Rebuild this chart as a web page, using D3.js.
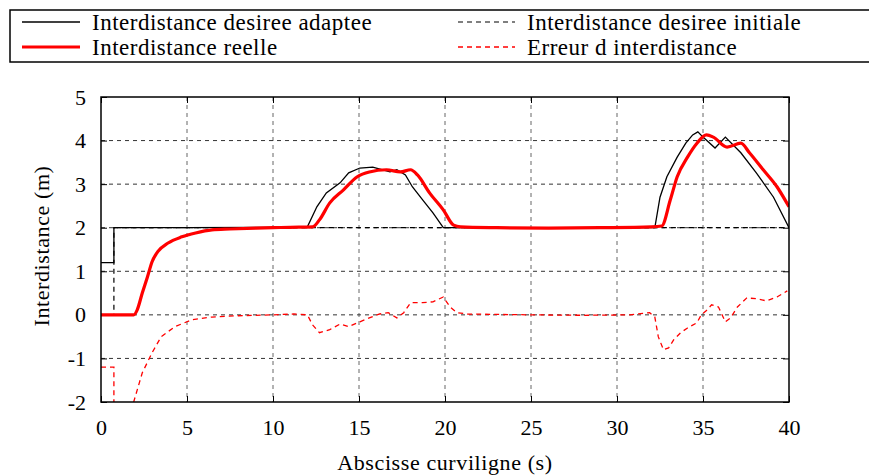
<!DOCTYPE html>
<html>
<head>
<meta charset="utf-8">
<script src="https://d3js.org/d3.v7.min.js"></script>
<style>
  body { margin: 0; background: #fff; }
</style>
</head>
<body>
<div id="chart"></div>
<script>
// values
const adapteeX = [0, 0.75, 0.75, 5, 10, 12.0, 12.55, 13.1, 13.9, 14.4, 15.05, 15.8, 16.8, 17.2, 17.7, 18.1, 18.7, 19.3, 19.9, 25, 32.2, 32.5, 32.9, 33.5, 34.0, 34.4, 34.7, 35.0, 35.7, 36.3, 37.2, 38.1, 39.1, 40];
const adapteeY = [1.2, 1.2, 2.0, 2.0, 2.01, 2.02, 2.48, 2.8, 3.03, 3.26, 3.37, 3.39, 3.28, 3.33, 3.21, 2.94, 2.64, 2.34, 2.0, 2.0, 2.0, 2.7, 3.17, 3.62, 3.94, 4.13, 4.2, 4.08, 3.83, 4.08, 3.72, 3.26, 2.7, 2.0];

const initialeX = [0, 0.75, 0.75, 40];
const initialeY = [0, 0, 2, 2];

const reelleX = [0, 1.9, 2.1, 2.4, 2.7, 2.97, 3.3, 3.9, 4.7, 5.5, 6.45, 7.5, 9, 10, 11, 12.3, 12.7, 13.3, 14.1, 14.9, 15.6, 16.6, 17.4, 18.0, 18.4, 19.1, 19.9, 20.5, 20.9, 23, 26, 29, 32.0, 32.6, 33.1, 33.5, 34.1, 34.65, 35.2, 35.6, 36.4, 37.2, 37.7, 38.5, 39.3, 40];
const reelleY = [0, 0, 0.11, 0.5, 0.87, 1.22, 1.45, 1.65, 1.79, 1.88, 1.95, 1.97, 1.99, 2.0, 2.01, 2.02, 2.18, 2.57, 2.87, 3.17, 3.28, 3.33, 3.28, 3.33, 3.21, 2.8, 2.41, 2.06, 2.02, 2.0, 1.99, 2.0, 2.02, 2.04, 2.64, 3.17, 3.62, 3.94, 4.13, 4.08, 3.85, 3.94, 3.72, 3.33, 2.94, 2.48];

const erreurX = [0, 0.75, 0.75, 1.9, 2.4, 2.97, 3.5, 4.3, 5.3, 6.45, 8, 10, 11.2, 12.0, 12.3, 12.7, 13.3, 13.9, 14.4, 15.05, 15.6, 16.2, 16.7, 17.2, 17.6, 18.0, 18.7, 19.3, 19.9, 20.3, 20.7, 21.3, 25, 28, 30.75, 31.9, 32.2, 32.4, 32.7, 33.0, 33.3, 33.7, 34.1, 34.65, 34.9, 35.2, 35.5, 35.9, 36.3, 36.6, 37.0, 37.55, 38.1, 38.7, 39.3, 39.9];
const erreurY = [-1.2, -1.2, -2.1, -2.0, -1.33, -0.87, -0.5, -0.27, -0.11, -0.05, -0.02, 0, 0.02, 0, -0.23, -0.41, -0.34, -0.21, -0.27, -0.16, -0.07, 0.02, 0.05, -0.07, 0.05, 0.28, 0.28, 0.3, 0.41, 0.18, 0.05, 0.02, 0, -0.01, 0, 0.05, -0.05, -0.5, -0.8, -0.76, -0.57, -0.41, -0.3, -0.18, 0, 0.1, 0.23, 0.18, -0.16, -0.07, 0.18, 0.39, 0.37, 0.32, 0.41, 0.55];

const xTicks = [0, 5, 10, 15, 20, 25, 30, 35, 40];
const yTicks = [-2, -1, 0, 1, 2, 3, 4, 5];

const legendLabels = ["Interdistance desiree adaptee", "Interdistance desiree initiale", "Interdistance reelle", "Erreur d interdistance"];

const FONT = "Liberation Serif";
const width = 869, height = 475;
const margin = { top: 97, right: 80, bottom: 73, left: 101 };

const svg = d3.select("#chart").append("svg")
    .attr("width", width)
    .attr("height", height)
    .attr("font-family", FONT);

const x = d3.scaleLinear().domain([0, 40]).range([margin.left, width - margin.right]);
const y = d3.scaleLinear().domain([-2, 5]).range([height - margin.bottom, margin.top]);

svg.append("clipPath").attr("id", "clip")
    .append("rect")
    .attr("x", x(0)).attr("y", y(5))
    .attr("width", x(40) - x(0)).attr("height", y(-2) - y(5));

// grid
const grid = svg.append("g").attr("stroke-width", 1).attr("stroke-dasharray", "4,4");
grid.selectAll("line.gx").data(xTicks.slice(1, -1)).join("line")
    .attr("stroke", "#666")
    .attr("x1", d => x(d)).attr("x2", d => x(d))
    .attr("y1", y(5)).attr("y2", y(-2));
grid.selectAll("line.gy").data(yTicks.slice(1, -1)).join("line")
    .attr("stroke", "#333")
    .attr("y1", d => y(d)).attr("y2", d => y(d))
    .attr("x1", x(0)).attr("x2", x(40));

// axes (gnuplot style: ticks inside, on all four sides)
const fmt = d => String(d);
const axBottom = svg.append("g").attr("transform", `translate(0,${y(-2)})`)
    .call(d3.axisBottom(x).tickValues(xTicks).tickFormat(fmt).tickSize(-6).tickPadding(17));
const axTop = svg.append("g").attr("transform", `translate(0,${y(5)})`)
    .call(d3.axisTop(x).tickValues(xTicks).tickSize(-6).tickFormat(""));
const axLeft = svg.append("g").attr("transform", `translate(${x(0)},0)`)
    .call(d3.axisLeft(y).tickValues(yTicks).tickFormat(fmt).tickSize(-6).tickPadding(15));
const axRight = svg.append("g").attr("transform", `translate(${x(40)},0)`)
    .call(d3.axisRight(y).tickValues(yTicks).tickSize(-6).tickFormat(""));
[axBottom, axTop, axLeft, axRight].forEach(g => {
    g.attr("font-family", FONT).attr("font-size", 22);
    g.select(".domain").remove();
    g.selectAll("line").attr("stroke", "#000");
    g.selectAll("text").attr("fill", "#000");
});

const line = d3.line().x(d => x(d[0])).y(d => y(d[1]));
const smooth = d3.line().x(d => x(d[0])).y(d => y(d[1])).curve(d3.curveMonotoneX);
const zip = (xs, ys) => xs.map((v, i) => [v, ys[i]]);

const plot = svg.append("g").attr("clip-path", "url(#clip)");

plot.append("path").datum(zip(initialeX, initialeY))
    .attr("fill", "none").attr("stroke", "#000").attr("stroke-width", 1.2)
    .attr("stroke-dasharray", "5,4").attr("d", line);

plot.append("path").datum(zip(erreurX, erreurY))
    .attr("fill", "none").attr("stroke", "#ff0000").attr("stroke-width", 1.3)
    .attr("stroke-dasharray", "5,4").attr("d", line);

plot.append("path").datum(zip(adapteeX, adapteeY))
    .attr("fill", "none").attr("stroke", "#000").attr("stroke-width", 1.3)
    .attr("d", line);

plot.append("path").datum(zip(reelleX, reelleY))
    .attr("fill", "none").attr("stroke", "#ff0000").attr("stroke-width", 3.2)
    .attr("stroke-linejoin", "round").attr("d", smooth);

// frame
svg.append("rect")
    .attr("x", x(0)).attr("y", y(5))
    .attr("width", x(40) - x(0)).attr("height", y(-2) - y(5))
    .attr("fill", "none").attr("stroke", "#000").attr("stroke-width", 1.5);

// axis titles
svg.append("text")
    .attr("x", (x(0) + x(40)) / 2).attr("y", 470)
    .attr("text-anchor", "middle").attr("font-size", 22)
    .attr("letter-spacing", 0.6)
    .text("Abscisse curviligne (s)");
svg.append("text")
    .attr("transform", `translate(49,246) rotate(-90)`)
    .attr("text-anchor", "middle").attr("font-size", 22)
    .attr("letter-spacing", 0.6)
    .text("Interdistance (m)");

// legend
svg.append("rect")
    .attr("x", 10).attr("y", 10).attr("width", 870).attr("height", 52)
    .attr("fill", "#fff").attr("stroke", "#000").attr("stroke-width", 1.5);

const legendItems = [
    { label: legendLabels[0], x0: 22, x1: 80, ty: 22, color: "#000", w: 1.3, dash: null },
    { label: legendLabels[1], x0: 458, x1: 515, ty: 22, color: "#000", w: 1.2, dash: "5,4" },
    { label: legendLabels[2], x0: 22, x1: 80, ty: 47, color: "#ff0000", w: 3.2, dash: null },
    { label: legendLabels[3], x0: 458, x1: 515, ty: 47, color: "#ff0000", w: 1.3, dash: "5,4" }
];
const leg = svg.append("g");
leg.selectAll("line").data(legendItems).join("line")
    .attr("x1", d => d.x0).attr("x2", d => d.x1)
    .attr("y1", d => d.ty).attr("y2", d => d.ty)
    .attr("stroke", d => d.color).attr("stroke-width", d => d.w)
    .attr("stroke-dasharray", d => d.dash);
leg.selectAll("text").data(legendItems).join("text")
    .attr("x", d => d.x1 + 12).attr("y", d => d.ty)
    .attr("dy", "0.33em").attr("font-size", 23)
    .attr("letter-spacing", 0.5)
    .text(d => d.label);
</script>
</body>
</html>
